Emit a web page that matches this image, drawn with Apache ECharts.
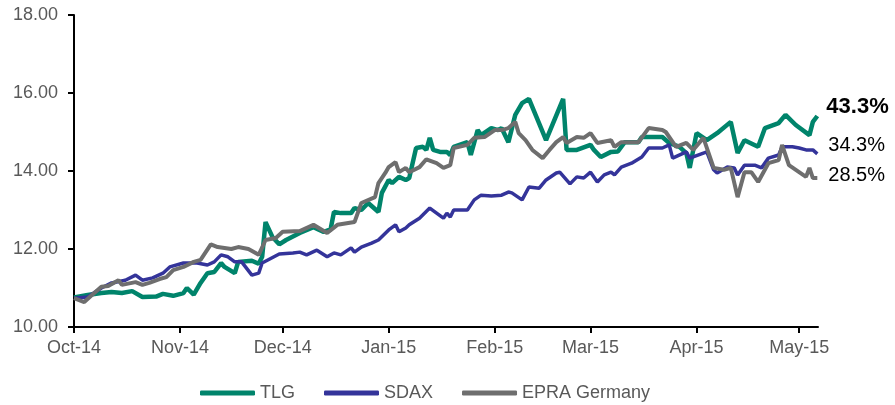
<!DOCTYPE html>
<html>
<head>
<meta charset="utf-8">
<script src="https://cdn.jsdelivr.net/npm/echarts@6/dist/echarts.min.js"></script>
<style>
    html, body { margin: 0; padding: 0; background: #fff; }
    #chart { width: 895px; height: 405px; }
</style>
</head>
<body>
<div id="chart"></div>
<script>
/* 数据: x = 自 2014-10-01 起的天数, y = 指数值 */
const monthTicks = [0, 31, 61, 92, 123, 151, 182, 212];
const monthLabels = ['Oct-14', 'Nov-14', 'Dec-14', 'Jan-15', 'Feb-15', 'Mar-15', 'Apr-15', 'May-15'];
const lastDay = 217.5;

const seriesNames = ['TLG', 'SDAX', 'EPRA Germany'];
const endLabels = ['43.3%', '34.3%', '28.5%'];

const tlgData = [
    [0, 10.76], [4, 10.82], [8, 10.87], [11, 10.9], [14, 10.87], [17, 10.92], [20, 10.77], [24, 10.78],
    [26, 10.85], [29, 10.8], [32, 10.87], [33, 11.0], [35, 10.83], [37, 11.13], [39, 11.38], [41, 11.41],
    [43, 11.64], [44, 11.54], [47, 11.38], [48, 11.67], [52, 11.7], [54, 11.62], [55, 11.8], [56, 12.69],
    [58, 12.31], [60, 12.12], [62, 12.23], [66, 12.41], [70, 12.56], [73, 12.44], [75, 12.5], [76, 12.95],
    [78, 12.92], [81, 12.92], [82, 13.05], [84, 13.0], [86, 13.18], [89, 12.95], [90, 13.44], [92, 13.77],
    [93, 13.69], [95, 13.85], [97, 13.77], [98, 13.82], [100, 14.59], [102, 14.62], [103, 14.54], [104, 14.85],
    [105, 14.54], [107, 14.49], [109, 14.49], [110, 14.41], [111, 14.62], [115, 14.74], [116, 14.41], [118, 15.05],
    [119, 14.92], [122, 15.1], [124, 15.05], [125, 15.1], [127, 14.74], [129, 15.44], [131, 15.74], [133, 15.85],
    [138, 14.79], [143, 15.85], [144, 14.54], [147, 14.54], [151, 14.67], [152, 14.54], [154, 14.36], [157, 14.49],
    [159, 14.5], [161, 14.74], [165, 14.74], [166, 14.87], [172, 14.87], [174, 14.72], [177, 14.62], [179, 14.46],
    [180, 14.08], [182, 14.97], [185, 14.79], [188, 14.97], [192, 15.26], [194, 14.46], [196, 14.79], [200, 14.62],
    [202, 15.1], [206, 15.23], [208, 15.44], [211, 15.18], [215, 14.92], [216, 15.26], [217.3, 15.41]
];

const sdaxData = [
    [0, 10.74], [4, 10.77], [8, 11.0], [11, 11.13], [15, 11.2], [18, 11.33], [20, 11.2], [23, 11.26],
    [26, 11.38], [28, 11.54], [32, 11.64], [36, 11.64], [39, 11.59], [41, 11.67], [43, 11.85], [45, 11.8],
    [47, 11.67], [49, 11.67], [52, 11.33], [54, 11.38], [55, 11.64], [60, 11.87], [64, 11.9], [66, 11.92],
    [68, 11.85], [71, 11.97], [74, 11.8], [76, 11.9], [78, 11.85], [81, 12.03], [82, 11.92], [84, 12.05],
    [87, 12.15], [89, 12.23], [92, 12.49], [94, 12.62], [95, 12.44], [97, 12.54], [98, 12.62], [101, 12.79],
    [104, 13.05], [108, 12.79], [109, 12.92], [110, 12.82], [111, 13.0], [115, 13.0], [117, 13.26], [119, 13.38],
    [122, 13.36], [125, 13.38], [127, 13.46], [128, 13.44], [131, 13.26], [133, 13.59], [136, 13.56], [138, 13.77],
    [141, 13.95], [142, 13.97], [145, 13.67], [147, 13.85], [149, 13.82], [151, 13.97], [153, 13.72], [155, 13.9],
    [157, 13.97], [158, 13.9], [160, 14.1], [163, 14.2], [166, 14.36], [168, 14.59], [172, 14.59], [174, 14.67],
    [175, 14.33], [179, 14.49], [180, 14.33], [184, 14.46], [185, 14.49], [187, 14.03], [188, 13.95], [191, 14.1],
    [193, 14.08], [194, 13.9], [196, 14.15], [199, 14.15], [201, 14.08], [203, 14.33], [206, 14.41], [207, 14.62],
    [210, 14.62], [212, 14.59], [214, 14.54], [216, 14.54], [217.3, 14.44]
];

const epraData = [
    [0, 10.74], [3, 10.64], [5, 10.8], [8, 11.03], [10, 11.05], [13, 11.2], [14, 11.08], [18, 11.15],
    [20, 11.08], [22, 11.13], [25, 11.23], [27, 11.28], [29, 11.46], [32, 11.54], [35, 11.67], [37, 11.72],
    [40, 12.12], [42, 12.05], [46, 12.0], [48, 12.05], [51, 12.0], [54, 11.85], [56, 12.23], [59, 12.28],
    [61, 12.44], [66, 12.46], [70, 12.62], [74, 12.41], [77, 12.62], [82, 12.69], [84, 13.18], [88, 13.33],
    [89, 13.69], [91, 13.95], [92, 14.1], [94, 14.23], [95, 13.97], [97, 14.08], [98, 13.97], [101, 14.1],
    [103, 14.3], [106, 14.2], [108, 14.08], [110, 14.15], [111, 14.59], [115, 14.67], [117, 14.85], [120, 14.87],
    [123, 15.05], [125, 15.05], [127, 15.1], [129, 15.26], [130, 14.97], [132, 14.79], [134, 14.54], [137, 14.33],
    [139, 14.54], [141, 14.74], [143, 14.87], [144, 14.72], [147, 14.87], [149, 14.85], [151, 14.97], [153, 14.72],
    [157, 14.79], [158, 14.62], [160, 14.74], [165, 14.74], [168, 15.1], [172, 15.05], [173, 15.0], [176, 14.62],
    [179, 14.72], [181, 14.54], [184, 14.85], [187, 14.08], [190, 14.03], [192, 14.08], [194, 13.33], [196, 13.97],
    [198, 13.97], [200, 13.72], [203, 14.2], [206, 14.28], [207, 14.67], [209, 14.15], [214, 13.85], [215, 14.08],
    [216, 13.82], [217.3, 13.82]
];

const chartDom = document.getElementById('chart');
const chartObj = echarts.init(chartDom);

const labelColor = '#595959';
const fontFamily = '"Liberation Sans", Arial, sans-serif';

chartObj.setOption({
    animation: false,
    textStyle: { fontFamily: fontFamily },
    grid: { left: 74, right: 77, top: 15, bottom: 78 },
    legend: {
        data: seriesNames,
        icon: 'roundRect',
        left: 200,
        top: 384,
        padding: 0,
        itemWidth: 55,
        itemHeight: 5,
        itemGap: 29,
        textStyle: { fontSize: 18, color: labelColor, fontFamily: fontFamily }
    },
    xAxis: {
        type: 'value',
        min: 0,
        max: lastDay,
        splitLine: { show: false },
        axisLine: { lineStyle: { color: '#000', width: 2 } },
        axisTick: {
            customValues: monthTicks,
            length: 6,
            lineStyle: { color: '#000', width: 2 }
        },
        axisLabel: {
            customValues: monthTicks,
            margin: 12,
            fontSize: 18,
            color: labelColor,
            formatter: v => monthLabels[monthTicks.indexOf(v)]
        }
    },
    yAxis: {
        type: 'value',
        min: 10,
        max: 18,
        interval: 2,
        splitLine: { show: false },
        axisLine: { show: true, lineStyle: { color: '#000', width: 2 } },
        axisTick: { show: true, length: 6, lineStyle: { color: '#000', width: 2 } },
        axisLabel: {
            margin: 16,
            fontSize: 18,
            color: labelColor,
            formatter: v => v.toFixed(2)
        }
    },
    series: [
        {
            name: seriesNames[0],
            type: 'line',
            symbol: 'none',
            data: tlgData,
            color: '#00846B',
            lineStyle: { width: 4.5, color: '#00846B' },
            endLabel: {
                show: true,
                formatter: endLabels[0],
                offset: [1, -9],
                fontSize: 22,
                fontWeight: 'bold',
                color: '#000'
            }
        },
        {
            name: seriesNames[1],
            type: 'line',
            symbol: 'none',
            data: sdaxData,
            color: '#34349A',
            lineStyle: { width: 3.5, color: '#34349A' },
            endLabel: {
                show: true,
                formatter: endLabels[1],
                offset: [3, -8],
                fontSize: 20,
                color: '#000'
            }
        },
        {
            name: seriesNames[2],
            type: 'line',
            symbol: 'none',
            data: epraData,
            color: '#6E6E6E',
            lineStyle: { width: 4, color: '#6E6E6E' },
            endLabel: {
                show: true,
                formatter: endLabels[2],
                offset: [3, -3],
                fontSize: 20,
                color: '#000'
            }
        }
    ]
});
</script>
</body>
</html>
